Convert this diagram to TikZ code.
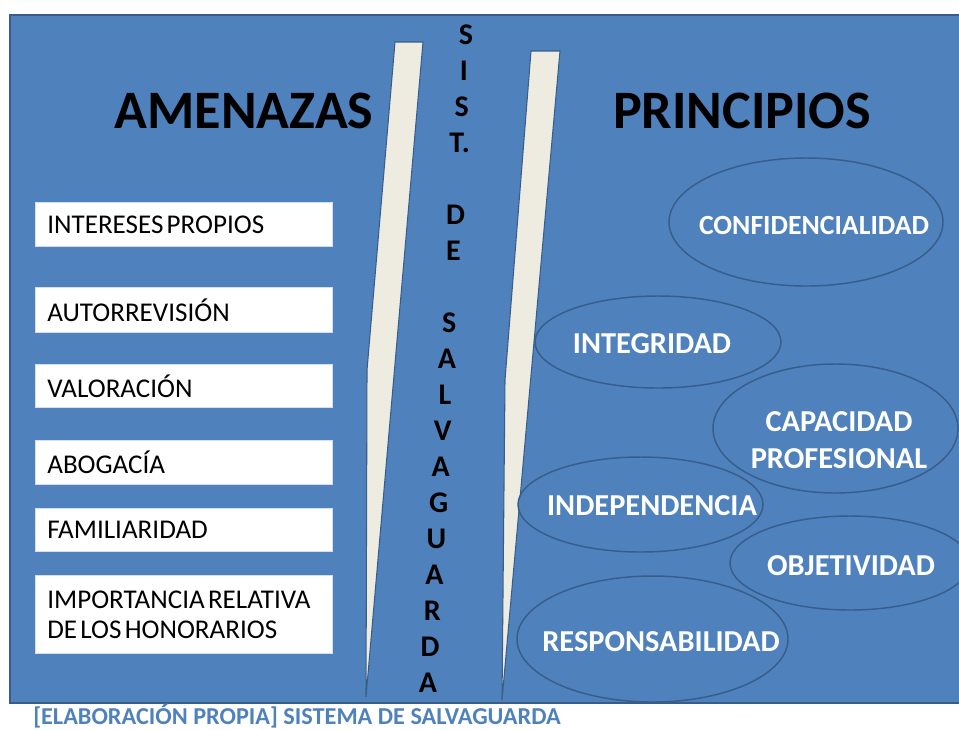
\documentclass[tikz,border=0pt]{standalone}
\usepackage{fontspec}
\setmainfont{Carlito}
\usepackage{tikz}
\usetikzlibrary{shapes.geometric}
\definecolor{fondo}{HTML}{4F81BD}
\definecolor{borde}{HTML}{385D8A}
\definecolor{crema}{HTML}{EEECE1}
\newcommand{\apretado}{\spaceskip=0.12em\relax}

\begin{document}
\begin{tikzpicture}[x=0.75pt,y=-0.75pt,
  amenaza/.style={fill=white, draw=white!75!fondo, line width=0.5pt, anchor=north west,
    minimum width=222.75pt, text width=204.75pt, inner xsep=9pt, align=left,
    font=\fontsize{20.3}{22.5}\selectfont, execute at begin node=\apretado},
  principio/.style={ellipse, draw=borde, line width=1.1pt, fill=fondo, inner sep=0pt},
  ptexto/.style={text=white, align=center, font=\bfseries\fontsize{22.8}{28}\selectfont},
  titulo/.style={font=\bfseries\fontsize{40.6}{44}\selectfont},
  letra/.style={font=\bfseries\fontsize{22.5}{24}\selectfont}]
  \useasboundingbox (0,0) rectangle (959,729);

  % Define background panel
  \draw[fill=fondo, draw=borde, line width=1.5pt] (10,15) rectangle (975,703);

  % Wedges of the safeguard system
  \filldraw[fill=crema, draw=borde, line width=0.8pt]
    (395,42) -- (423,42) -- (366,697) -- (367,370) -- cycle;
  \filldraw[fill=crema, draw=borde, line width=0.8pt]
    (531,51) -- (560,51) -- (502,700) -- (505,380) -- cycle;

  % Titles
  \node[titulo] (amenazas) at (244,111) {AMENAZAS};
  \node[titulo] (principios) at (742,111) {PRINCIPIOS};

  % Threats
  \node[amenaza, minimum height=33pt] (intereses) at (35,202) {INTERESES PROPIOS};
  \node[amenaza, minimum height=33.75pt] (autorrevision) at (35,287) {AUTORREVISIÓN};
  \node[amenaza, minimum height=32.25pt] (valoracion) at (35,364) {VALORACIÓN};
  \node[amenaza, minimum height=33pt] (abogacia) at (35,440) {ABOGACÍA};
  \node[amenaza, minimum height=32.25pt] (familiaridad) at (35,508) {FAMILIARIDAD};
  \node[amenaza, minimum height=58.5pt] (importancia) at (35,575)
    {IMPORTANCIA RELATIVA\\DE LOS HONORARIOS};

  % Principles
  \node[principio, minimum width=205.5pt, minimum height=96pt] (conf) at (806,222) {};
  \node[principio, minimum width=184.5pt, minimum height=69pt] (integ) at (658,342) {};
  \node[principio, minimum width=183.75pt, minimum height=96.75pt] (capac) at (835.5,428.5) {};
  \node[principio, minimum width=183.75pt, minimum height=71.25pt] (indep) at (640.5,504.5) {};
  \node[principio, minimum width=180pt, minimum height=70.5pt] (objet) at (850,563) {};
  \node[principio, minimum width=203.25pt, minimum height=94.5pt] (resp) at (652.5,639) {};

  \node[ptexto, font=\bfseries\fontsize{20.8}{28}\selectfont] (conf-t) at (814,225) {CONFIDENCIALIDAD};
  \node[ptexto] (integ-t) at (652,344) {INTEGRIDAD};
  \node[ptexto] (capac-t) at (839,440) {CAPACIDAD\\PROFESIONAL};
  \node[ptexto] (indep-t) at (652,506) {INDEPENDENCIA};
  \node[ptexto] (objet-t) at (851,566) {OBJETIVIDAD};
  \node[ptexto] (resp-t) at (661,642) {RESPONSABILIDAD};

  % Vertical label, slightly slanted
  \foreach \i/\l in {0/S,1/I,2/S,3/T.,5/D,6/E,8/S,9/A,10/L,11/V,12/A,
                     13/G,14/U,15/A,16/R,17/D,18/A}
    \node[letra] (letra\i) at ({466-2.11*\i},{35+36*\i}) {\l};

  % Caption
  \node[anchor=west, text=fondo, inner sep=0pt, font=\bfseries\fontsize{18.2}{20}\selectfont]
    (fuente) at (33,716) {[ELABORACIÓN PROPIA] SISTEMA DE SALVAGUARDA};
\end{tikzpicture}
\end{document}
